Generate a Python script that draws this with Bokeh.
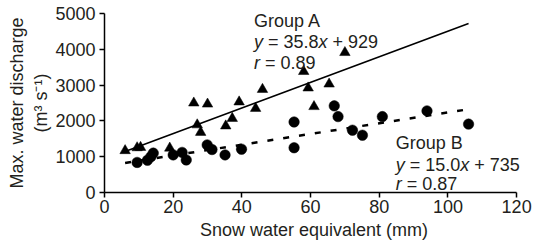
from bokeh.plotting import figure
from bokeh.models import Range1d, FixedTicker, Label
from bokeh.embed import file_html
from bokeh.resources import INLINE

# Group A (triangles): snow water equivalent (mm), max discharge (m3/s)
swe_a = [6, 9.5, 10.5, 19, 26, 30, 27, 28, 35.3, 37.2, 39.2, 44, 46, 58, 59.3, 61, 65.4, 70]
q_a = [1170, 1250, 1260, 1240, 2500, 2470, 1890, 1680, 1860, 2070, 2530, 2350, 2880, 3380, 2920, 2400, 3030, 3910]

# Group B (circles)
swe_b = [9.5, 12.5, 13.5, 14.2, 20, 22.6, 23.8, 29.9, 31.3, 35.1, 39.9, 55.2, 55.2, 66.9, 68, 72.2, 75.1, 80.9, 93.9, 106]
q_b = [840, 900, 1000, 1100, 1050, 1120, 910, 1330, 1200, 1050, 1210, 1970, 1250, 2420, 2120, 1740, 1600, 2120, 2280, 1910]

# Regression equations
fit_a = {"slope": 35.8, "intercept": 929, "r": 0.89}
fit_b = {"slope": 15.0, "intercept": 735, "r": 0.87}
fit_x = [6, 106]

x_ticks = [0, 20, 40, 60, 80, 100, 120]
y_ticks = [0, 1000, 2000, 3000, 4000, 5000]

FONT = "Liberation Sans"
TXT = "#231f20"
FS = 18

p = figure(width=542, height=246, output_backend="svg", toolbar_location=None,
           x_range=Range1d(0, 122), y_range=Range1d(0, 5000),
           min_border_left=104, min_border_right=19, min_border_top=13, min_border_bottom=54)
p.outline_line_color = None
p.grid.visible = False
p.background_fill_color = "white"

for ax in (p.xaxis[0], p.yaxis[0]):
    ax.axis_line_color = "black"
    ax.axis_line_width = 1.5
    ax.major_tick_line_color = "black"
    ax.major_tick_line_width = 1.5
    ax.major_tick_out = 5
    ax.major_tick_in = 0
    ax.minor_tick_line_color = None
    ax.major_label_text_font = FONT
    ax.major_label_text_font_size = f"{FS}px"
    ax.major_label_text_color = TXT
    ax.axis_label_text_font = FONT
    ax.axis_label_text_font_size = f"{FS}px"
    ax.axis_label_text_font_style = "normal"
    ax.axis_label_text_color = TXT

p.xaxis.ticker = FixedTicker(ticks=x_ticks)
p.xaxis.bounds = (0, 120)
p.yaxis.ticker = FixedTicker(ticks=y_ticks)
p.xaxis.major_label_standoff = 2
p.yaxis.major_label_standoff = 4
p.xaxis.axis_label = "Snow water equivalent (mm)"
p.xaxis.axis_label_standoff = 4
p.yaxis.axis_label = "Max. water discharge\n(m³ s⁻¹)"
p.yaxis.axis_label_standoff = 1

# fit lines
p.line(fit_x, [fit_a["slope"] * v + fit_a["intercept"] for v in fit_x],
       line_color="black", line_width=1.6)
p.line(fit_x, [fit_b["slope"] * v + fit_b["intercept"] for v in fit_x],
       line_color="black", line_width=2.5, line_dash="6 10")

# points
p.scatter(swe_a, q_a, marker="triangle", size=10.5, fill_color="black", line_color="black", line_width=0.5)
p.scatter(swe_b, q_b, marker="circle", size=10.5, fill_color="black", line_color="black", line_width=0.5)

# text annotations
CW = {' ': 278, '=': 584, '+': 584, '.': 278, 'x': 500, 'y': 500, 'r': 333}
for d in "0123456789":
    CW[d] = 556


def width(s):
    return sum(CW.get(c, 556) for c in s) * FS / 1000.0


def rich(x, y, pieces):
    off = 0.0
    for txt, ital in pieces:
        stripped = txt.lstrip(" ")
        off += width(txt[:len(txt) - len(stripped)])
        p.add_layout(Label(x=x, y=y, x_offset=off, text=stripped, text_font=FONT,
                           text_font_size=f"{FS}px", text_color=TXT,
                           text_font_style="italic" if ital else "normal",
                           text_baseline="alphabetic", text_align="left"))
        off += width(stripped)


def annotate(x, ys, name, fit):
    rich(x, ys[0], [(name, False)])
    rich(x, ys[1], [("y", True), (f" = {fit['slope']:.1f}", False), ("x", True),
                    (f" + {fit['intercept']}", False)])
    rich(x, ys[2], [("r", True), (f" = {fit['r']:.2f}", False)])


annotate(43.5, [4782, 4209, 3623], "Group A", fit_a)
annotate(84.8, [1383, 757, 246], "Group B", fit_b)

open("out.html", "w").write(file_html(p, INLINE))
